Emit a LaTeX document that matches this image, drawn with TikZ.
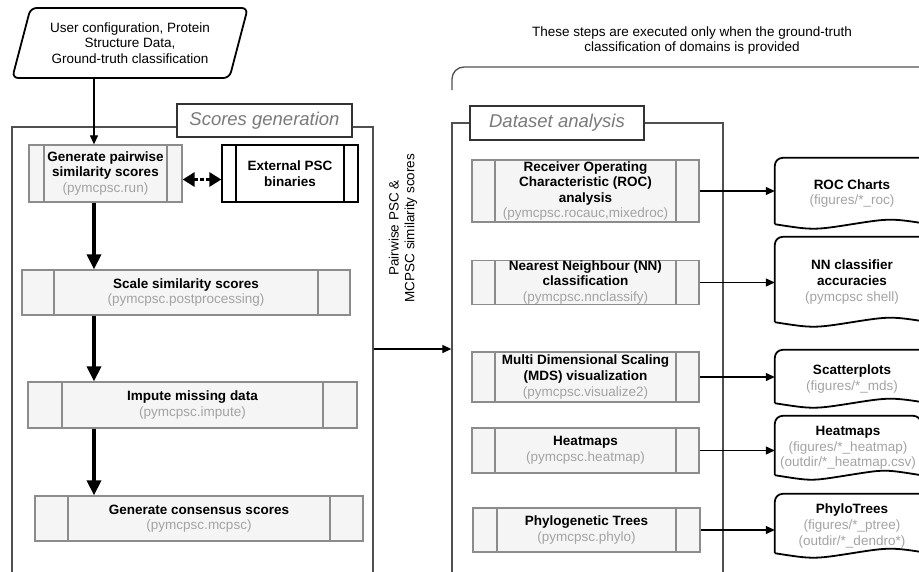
\documentclass[tikz,border=0pt]{standalone}
\usepackage{fontspec}
\setmainfont{Liberation Sans}
\usepackage{xcolor}
\usetikzlibrary{arrows.meta, shapes.geometric}

\definecolor{boxfill}{HTML}{F5F5F5}
\definecolor{boxline}{HTML}{8C8C8C}
\definecolor{grpline}{HTML}{505050}
\definecolor{subgray}{HTML}{A3A3A3}
\definecolor{titlegray}{HTML}{7A7A7A}
\newcommand{\boxfont}{\fontsize{13.5}{15.6}\selectfont}
\newcommand{\modname}[1]{{\mdseries\color{subgray}#1}}
\def\sidegap{15pt}
\def\sidecol{boxline}

\begin{document}
\begin{tikzpicture}[x=1pt, y=-1pt,
  sidegap/.code={\def\sidegap{#1}},
  sidecol/.code={\def\sidecol{#1}},
  procbox/.style={draw=boxline, fill=boxfill, line width=1.3pt, inner sep=0pt, align=center, font=\boxfont\bfseries,
    path picture={
      \draw[draw=\sidecol, line width=1.3pt] ([xshift=\sidegap]path picture bounding box.north west) -- ([xshift=\sidegap]path picture bounding box.south west);
      \draw[draw=\sidecol, line width=1.3pt] ([xshift=-\sidegap]path picture bounding box.north east) -- ([xshift=-\sidegap]path picture bounding box.south east);
    }},
  extbox/.style={procbox, draw=black, fill=white, sidecol=black},
  grpbox/.style={draw=grpline, line width=1.3pt},
  grptitle/.style={draw=black!80, fill=white, line width=1.2pt, font=\fontsize{18.5}{20}\selectfont\itshape, text=titlegray},
  outbox/.style={inner sep=0pt, minimum width=154pt, align=center, font=\boxfont\bfseries},
  docline/.style={draw=black, line width=1.8pt},
  flow/.style={draw=black, line width=1.2pt, -{Triangle[length=9pt, width=8pt]}},
  bigflow/.style={draw=black, line width=3.6pt, -{Triangle[length=15pt, width=14pt]}},
]
\useasboundingbox (0,0) rectangle (919,571);
\clip (0,0) rectangle (919,571);

% groups
\node[grpbox, minimum width=361pt, minimum height=493pt] (scoregrp) at (192.5,373.5) {};
\node[grpbox, minimum width=271pt, minimum height=497pt] (datagrp) at (587.5,371.5) {};
\node[grptitle, minimum width=175pt, minimum height=33pt] (scoretitle) at (264.5,120.5) {Scores generation};
\node[grptitle, minimum width=174pt, minimum height=34pt] (datatitle) at (557,123) {Dataset analysis};
\draw[grpline, line width=1.3pt, rounded corners=12pt] (452,90) -- (452,67) -- (935,67);
\node[font=\boxfont, align=center] (note) at (692,40.5) {These steps are executed only when the ground-truth\\classification of domains is provided};

% input
\node[draw, line width=1.8pt, rounded corners=6pt, trapezium, trapezium stretches=true,
  trapezium left angle=72, trapezium right angle=108, minimum width=236pt, minimum height=70pt,
  inner sep=3pt, align=center, font=\boxfont] (cfg) at (130,43)
  {User configuration, Protein\\Structure Data,\\Ground-truth classification};
\coordinate (spine) at (94,0);

% scores generation
\node[procbox, minimum width=153pt, minimum height=57pt] (gen) at (105.5,173.5)
  {Generate pairwise\\similarity scores\\\modname{(pymcpsc.run)}};
\node[extbox, sidegap=14pt, minimum width=136pt, minimum height=57pt] (ext) at (290,173.5)
  {External PSC\\binaries};
\node[procbox, sidegap=32pt, minimum width=328pt, minimum height=45pt] (scale) at (186,292.5)
  {Scale similarity scores\\\modname{(pymcpsc.postprocessing)}};
\node[procbox, sidegap=34pt, minimum width=329pt, minimum height=46pt] (impute) at (192.5,405)
  {Impute missing data\\\modname{(pymcpsc.impute)}};
\node[procbox, sidegap=33pt, minimum width=328pt, minimum height=45pt] (consensus) at (199,518.5)
  {Generate consensus scores\\\modname{(pymcpsc.mcpsc)}};

\draw[flow] (cfg.south -| spine) -- (gen.north -| spine);
\draw[bigflow] (gen.south -| spine) -- (scale.north -| spine);
\draw[bigflow] (scale.south -| spine) -- (impute.north -| spine);
\draw[bigflow] (impute.south -| spine) -- (consensus.north -| spine);
\draw[draw=black, line width=3.6pt, dash pattern=on 4pt off 2pt,
  {Triangle[length=12pt, width=14pt]}-{Triangle[length=12pt, width=14pt]}]
  ([yshift=-6pt]gen.east) -- ([yshift=-6pt]ext.west);

% hand-over
\node[font=\boxfont, align=center, rotate=90] (flowlbl) at (403,228) {Pairwise PSC \&\\MCPSC similarity scores};
\draw[flow] ([yshift=24.5pt]scoregrp.east) -- ([yshift=24.5pt]scoregrp.east -| datagrp.west);

% dataset analysis
\node[procbox, sidegap=23pt, minimum width=227pt, minimum height=62pt] (roc) at (585.5,191)
  {Receiver Operating\\Characteristic (ROC)\\analysis\\\modname{(pymcpsc.rocauc,mixedroc)}};
\node[procbox, sidegap=23pt, minimum width=227pt, minimum height=43pt] (nn) at (585.5,282.5)
  {Nearest Neighbour (NN)\\classification\\\modname{(pymcpsc.nnclassify)}};
\node[procbox, sidegap=23pt, minimum width=227pt, minimum height=50pt] (mds) at (585.5,377)
  {Multi Dimensional Scaling\\(MDS) visualization\\\modname{(pymcpsc.visualize2)}};
\node[procbox, sidegap=23pt, minimum width=227pt, minimum height=45pt] (heat) at (585.5,450.5)
  {Heatmaps\\\modname{(pymcpsc.heatmap)}};
\node[procbox, sidegap=24pt, minimum width=227pt, minimum height=44pt] (phylo) at (586.5,530)
  {Phylogenetic Trees\\\modname{(pymcpsc.phylo)}};

% outputs
\node[outbox, minimum height=71pt] (rocout) at (852,193.5) {ROC Charts\\\modname{(figures/*\_roc)}};
\node[outbox, minimum height=90pt] (nnout) at (852,282) {NN classifier\\accuracies\\\modname{(pymcpsc shell)}};
\node[outbox, minimum height=58pt] (scatout) at (852,379) {Scatterplots\\\modname{(figures/*\_mds)}};
\node[outbox, minimum width=146pt, minimum height=64pt] (heatout) at (848,448) {Heatmaps\\\modname{(figures/*\_heatmap)}\\\modname{(outdir/*\_heatmap.csv)}};
\node[outbox, minimum height=64pt] (phyloout) at (852,526) {PhyloTrees\\\modname{(figures/*\_ptree)}\\\modname{(outdir/*\_dendro*)}};

\foreach \o in {rocout,nnout,scatout,heatout,phyloout}{
  \draw[docline, rounded corners=8pt] ([yshift=5pt]\o.south west) -- (\o.north west) -- (\o.north east) -- ([yshift=5pt]\o.south east);
  \draw[docline] ([yshift=5pt]\o.south east) .. controls +(-38,-6) and +(38,-6) .. ([yshift=5pt]\o.south)
    .. controls +(-38,6) and +(38,6) .. ([yshift=5pt]\o.south west);
}
\foreach \a/\b in {roc/rocout, nn/nnout, mds/scatout, heat/heatout, phylo/phyloout}
  \draw[flow] (\a.east) -- (\a.east -| \b.west);
\end{tikzpicture}
\end{document}
